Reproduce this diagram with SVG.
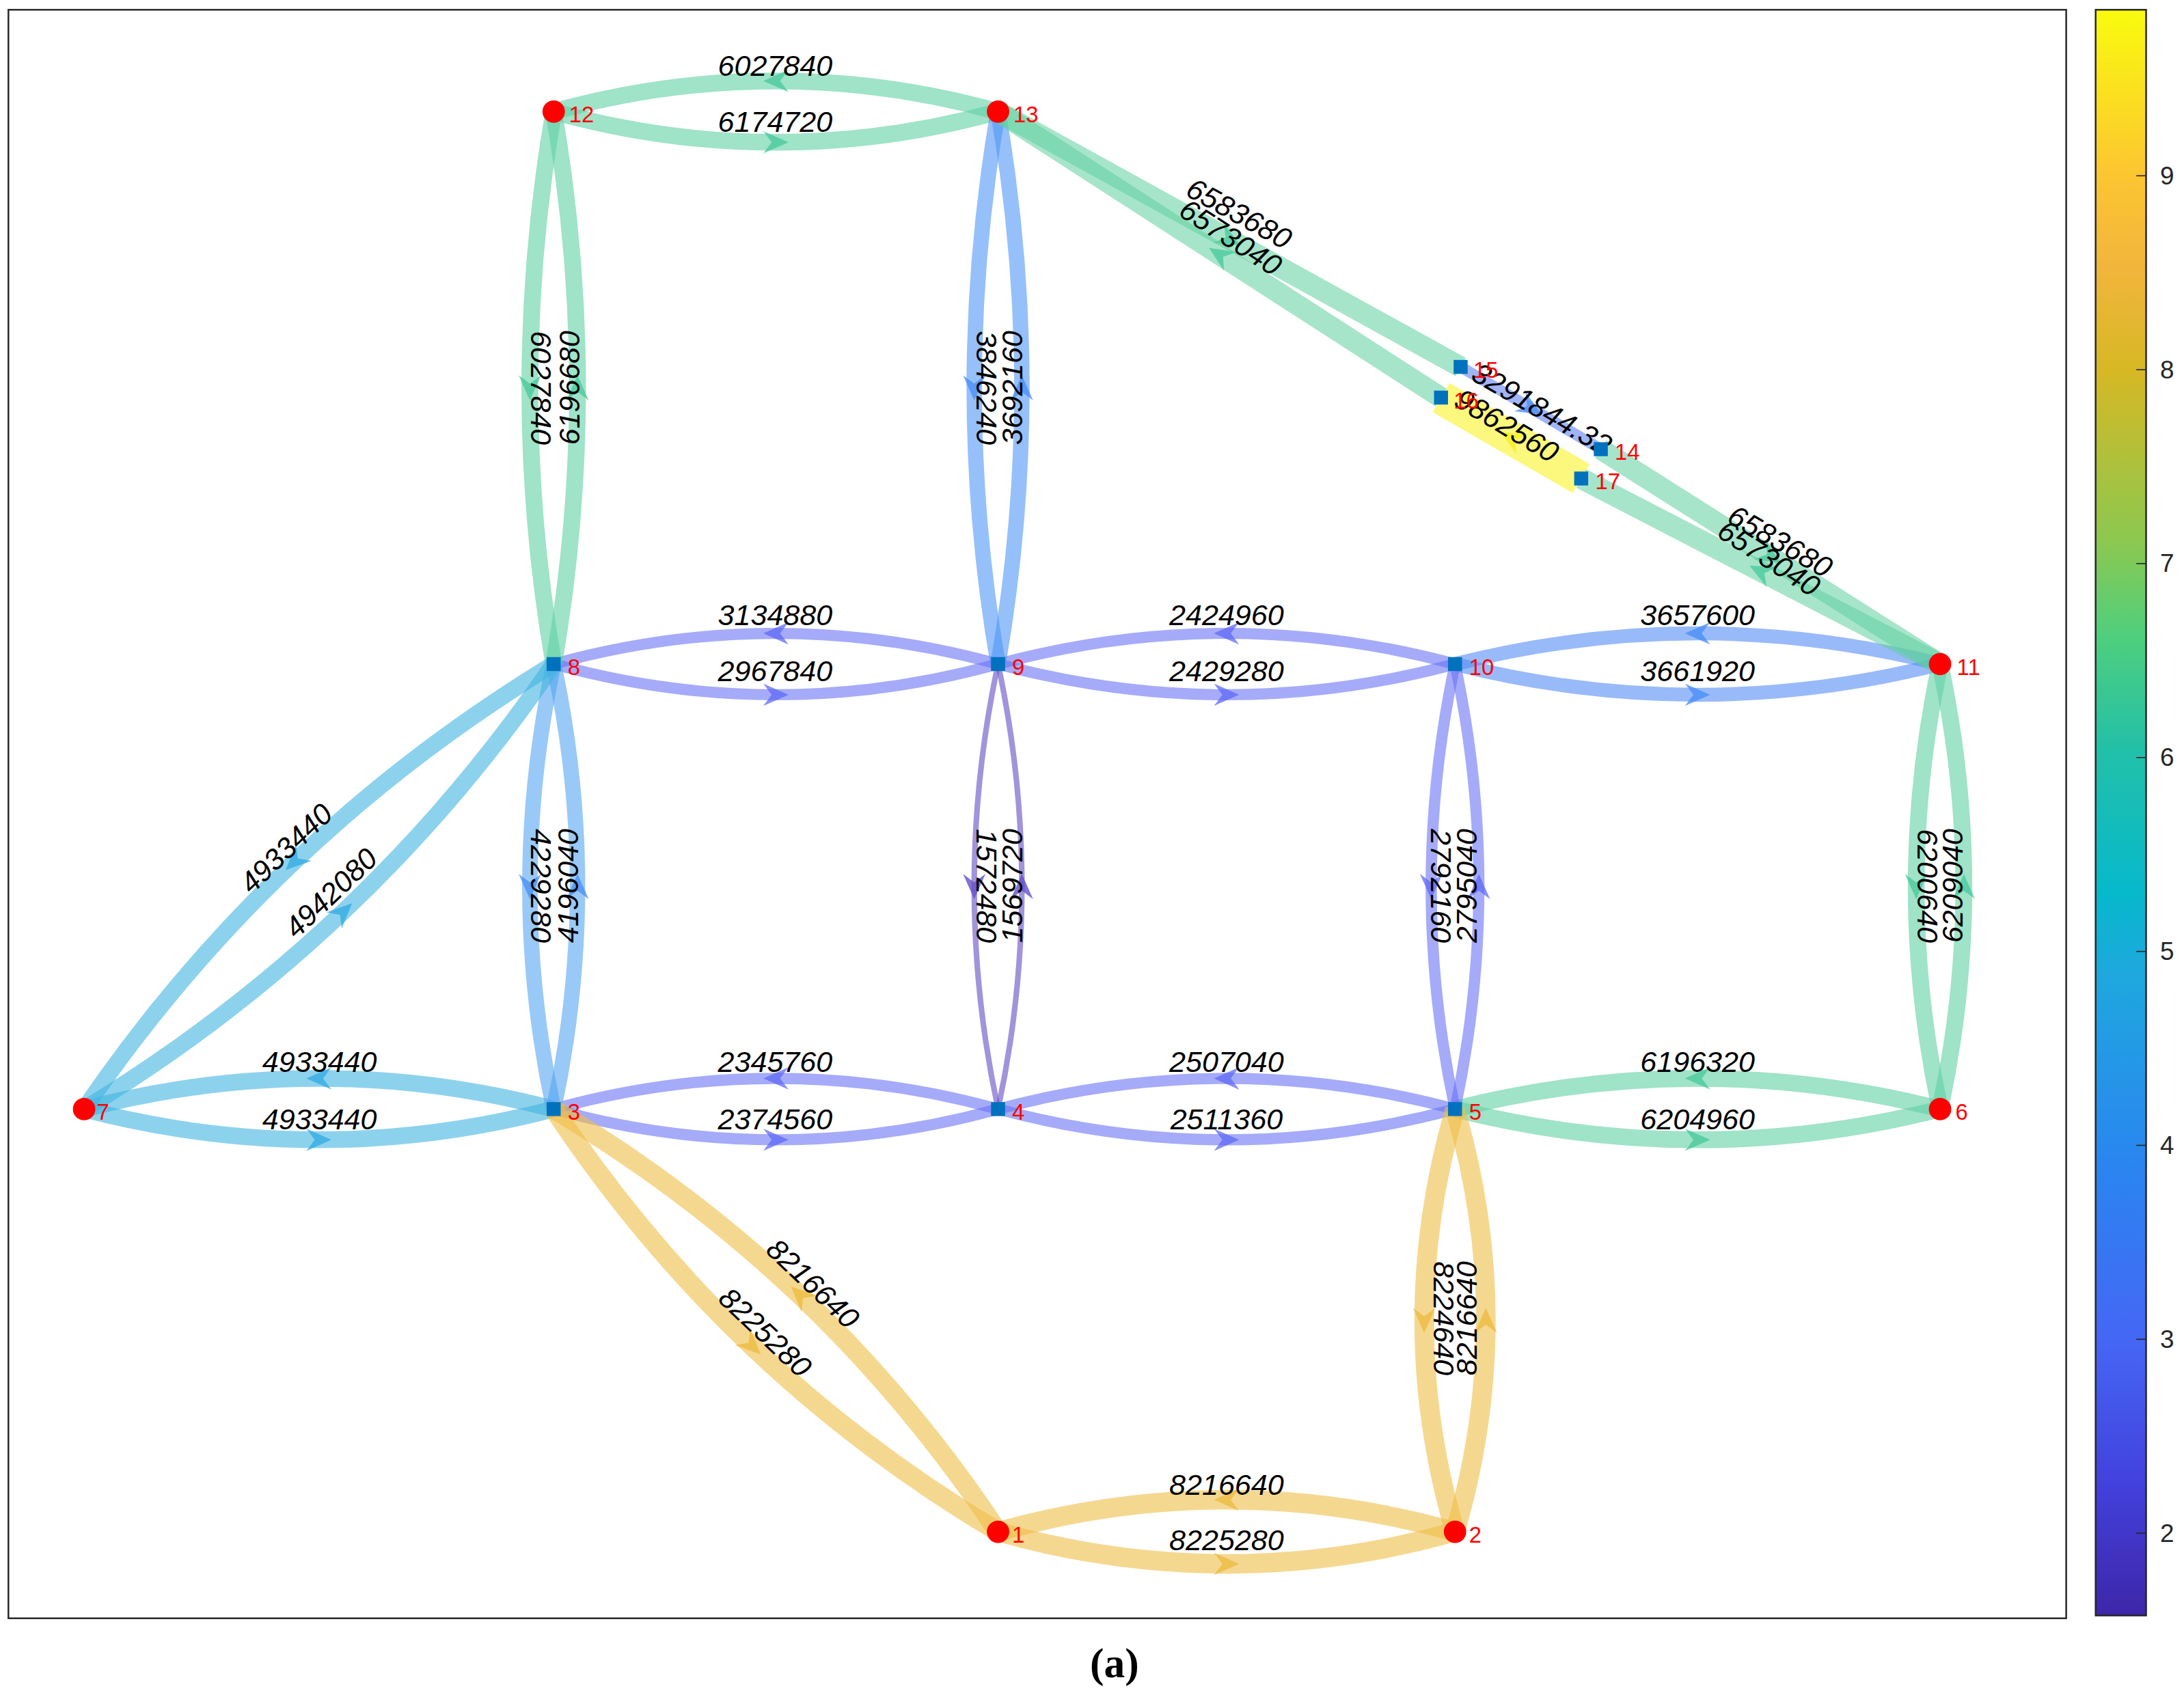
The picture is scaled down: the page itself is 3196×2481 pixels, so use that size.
<svg xmlns="http://www.w3.org/2000/svg" width="3196" height="2481" viewBox="0 0 3196 2481">
<style>
.e{fill:none;stroke-linecap:butt}
.g{stroke:rgb(95,208,165);stroke-opacity:.6;stroke-width:12}
.b1{stroke:rgb(80,150,245);stroke-opacity:.6;stroke-width:11}
.b2{stroke:rgb(85,165,240);stroke-opacity:.6;stroke-width:11}
.p{stroke:rgb(105,115,245);stroke-opacity:.6;stroke-width:8}
.pb{stroke:rgb(85,140,245);stroke-opacity:.6;stroke-width:10}
.v{stroke:rgb(110,90,200);stroke-opacity:.65;stroke-width:4}
.s{stroke:rgb(65,180,225);stroke-opacity:.6;stroke-width:12}
.y{stroke:rgb(238,190,70);stroke-opacity:.6;stroke-width:14}
.gy{stroke:rgb(250,245,70);stroke-opacity:.7;stroke-width:24}
.bl{stroke:rgb(110,140,245);stroke-opacity:.65;stroke-width:8}
.gs{stroke:rgb(95,208,160);stroke-opacity:.55;stroke-width:15}
.lb{font-family:"Liberation Sans",Arial,sans-serif;font-style:italic;font-size:21px;fill:#000;text-anchor:middle;dominant-baseline:central}
.nl{font-family:"Liberation Sans",Arial,sans-serif;font-size:16px;fill:#ff0000;dominant-baseline:central}
.rc{fill:#ff0000}
.sq{fill:#0072bd}
.tk{font-family:"Liberation Sans",Arial,sans-serif;font-size:18px;fill:#262626;dominant-baseline:central}
</style>
<defs>
<marker id="ag" markerUnits="userSpaceOnUse" markerWidth="18" markerHeight="16" refX="9" refY="8" orient="auto"><path d="M0,0 L18,8 L0,16 L6,8 z" fill="rgb(70,200,155)" fill-opacity=".75"/></marker>
<marker id="ab" markerUnits="userSpaceOnUse" markerWidth="18" markerHeight="16" refX="9" refY="8" orient="auto"><path d="M0,0 L18,8 L0,16 L6,8 z" fill="rgb(70,140,245)" fill-opacity=".75"/></marker>
<marker id="ap" markerUnits="userSpaceOnUse" markerWidth="18" markerHeight="16" refX="9" refY="8" orient="auto"><path d="M0,0 L18,8 L0,16 L6,8 z" fill="rgb(95,105,245)" fill-opacity=".75"/></marker>
<marker id="av" markerUnits="userSpaceOnUse" markerWidth="18" markerHeight="16" refX="9" refY="8" orient="auto"><path d="M0,0 L18,8 L0,16 L6,8 z" fill="rgb(100,80,200)" fill-opacity=".8"/></marker>
<marker id="as" markerUnits="userSpaceOnUse" markerWidth="18" markerHeight="16" refX="9" refY="8" orient="auto"><path d="M0,0 L18,8 L0,16 L6,8 z" fill="rgb(50,170,225)" fill-opacity=".75"/></marker>
<marker id="ay" markerUnits="userSpaceOnUse" markerWidth="18" markerHeight="16" refX="9" refY="8" orient="auto"><path d="M0,0 L18,8 L0,16 L6,8 z" fill="rgb(235,185,60)" fill-opacity=".75"/></marker>
<marker id="ayy" markerUnits="userSpaceOnUse" markerWidth="18" markerHeight="16" refX="9" refY="8" orient="auto"><path d="M0,0 L18,8 L0,16 L6,8 z" fill="rgb(245,240,40)" fill-opacity=".85"/></marker>
<linearGradient id="cb" x1="0" y1="0" x2="0" y2="1">
<stop offset="0" stop-color="#f9fb0e"/><stop offset=".104" stop-color="#fcc531"/><stop offset=".16" stop-color="#f2b53c"/><stop offset=".225" stop-color="#d6b824"/><stop offset=".33" stop-color="#8cc84f"/><stop offset=".39" stop-color="#4fcf7d"/><stop offset=".46" stop-color="#22c0a8"/><stop offset=".55" stop-color="#06b9cc"/><stop offset=".6" stop-color="#1ea8de"/><stop offset=".72" stop-color="#2a85f0"/><stop offset=".83" stop-color="#4566f5"/><stop offset=".92" stop-color="#4240dc"/><stop offset="1" stop-color="#3e26a8"/>
</linearGradient>
</defs>
<rect width="3196" height="2481" fill="#fff"/>
<g transform="scale(2.0513 2.042)">
<rect x="6" y="7" width="1468" height="1153" fill="none" stroke="#262626" stroke-width="1.2"/>
<g id="colorbar">
<rect x="1495" y="7" width="36" height="1151" fill="url(#cb)" stroke="#262626" stroke-width="1.2"/>
<g stroke="#262626" stroke-width="0.8">
<line x1="1524" y1="126" x2="1531" y2="126"/><line x1="1524" y1="265" x2="1531" y2="265"/><line x1="1524" y1="404" x2="1531" y2="404"/><line x1="1524" y1="543" x2="1531" y2="543"/><line x1="1524" y1="682" x2="1531" y2="682"/><line x1="1524" y1="821" x2="1531" y2="821"/><line x1="1524" y1="960" x2="1531" y2="960"/><line x1="1524" y1="1099" x2="1531" y2="1099"/>
</g>
<text class="tk" x="1541" y="126">9</text><text class="tk" x="1541" y="265">8</text><text class="tk" x="1541" y="404">7</text><text class="tk" x="1541" y="543">6</text><text class="tk" x="1541" y="682">5</text><text class="tk" x="1541" y="821">4</text><text class="tk" x="1541" y="960">3</text><text class="tk" x="1541" y="1099">2</text>
</g>
<g id="connectors">
<path class="e g" marker-mid="url(#ag)" d="M395 80 Q474 102 553.5 102 Q633 102 712 80"/>
<path class="e g" marker-mid="url(#ag)" d="M712 80 Q633 58 553.5 58 Q474 58 395 80"/>
<path class="e p" marker-mid="url(#ap)" d="M395 476 Q474 498 553.5 498 Q633 498 712 476"/>
<path class="e p" marker-mid="url(#ap)" d="M712 476 Q633 454 553.5 454 Q474 454 395 476"/>
<path class="e p" marker-mid="url(#ap)" d="M712 476 Q793.5 498 875 498 Q956.5 498 1038 476"/>
<path class="e p" marker-mid="url(#ap)" d="M1038 476 Q956.5 454 875 454 Q793.5 454 712 476"/>
<path class="e pb" marker-mid="url(#ab)" d="M1038 476 Q1124.5 498 1211 498 Q1297.5 498 1384 476"/>
<path class="e pb" marker-mid="url(#ab)" d="M1384 476 Q1297.5 454 1211 454 Q1124.5 454 1038 476"/>
<path class="e s" marker-mid="url(#as)" d="M60 795 Q143.75 817 227.5 817 Q311.25 817 395 795"/>
<path class="e s" marker-mid="url(#as)" d="M395 795 Q311.25 773 227.5 773 Q143.75 773 60 795"/>
<path class="e p" marker-mid="url(#ap)" d="M395 795 Q474 817 553.5 817 Q633 817 712 795"/>
<path class="e p" marker-mid="url(#ap)" d="M712 795 Q633 773 553.5 773 Q474 773 395 795"/>
<path class="e p" marker-mid="url(#ap)" d="M712 795 Q793.5 817 875 817 Q956.5 817 1038 795"/>
<path class="e p" marker-mid="url(#ap)" d="M1038 795 Q956.5 773 875 773 Q793.5 773 712 795"/>
<path class="e g" marker-mid="url(#ag)" d="M1038 795 Q1124.5 817 1211 817 Q1297.5 817 1384 795"/>
<path class="e g" marker-mid="url(#ag)" d="M1384 795 Q1297.5 773 1211 773 Q1124.5 773 1038 795"/>
<path class="e y" marker-mid="url(#ay)" d="M712 1098 Q793.5 1121 875 1121 Q956.5 1121 1038 1098"/>
<path class="e y" marker-mid="url(#ay)" d="M1038 1098 Q956.5 1075 875 1075 Q793.5 1075 712 1098"/>
<path class="e g" marker-mid="url(#ag)" d="M395 80 Q378 179 378 278 Q378 377 395 476"/>
<path class="e g" marker-mid="url(#ag)" d="M395 476 Q412 377 412 278 Q412 179 395 80"/>
<path class="e b1" marker-mid="url(#ab)" d="M712 80 Q695 179 695 278 Q695 377 712 476"/>
<path class="e b1" marker-mid="url(#ab)" d="M712 476 Q729 377 729 278 Q729 179 712 80"/>
<path class="e b2" marker-mid="url(#ab)" d="M395 476 Q378 555.75 378 635.5 Q378 715.25 395 795"/>
<path class="e b2" marker-mid="url(#ab)" d="M395 795 Q412 715.25 412 635.5 Q412 555.75 395 476"/>
<path class="e v" marker-mid="url(#av)" d="M712 476 Q695 555.75 695 635.5 Q695 715.25 712 795"/>
<path class="e v" marker-mid="url(#av)" d="M712 795 Q729 715.25 729 635.5 Q729 555.75 712 476"/>
<path class="e p" marker-mid="url(#ap)" d="M1038 476 Q1021 555.75 1021 635.5 Q1021 715.25 1038 795"/>
<path class="e p" marker-mid="url(#ap)" d="M1038 795 Q1055 715.25 1055 635.5 Q1055 555.75 1038 476"/>
<path class="e g" marker-mid="url(#ag)" d="M1384 476 Q1367 555.75 1367 635.5 Q1367 715.25 1384 795"/>
<path class="e g" marker-mid="url(#ag)" d="M1384 795 Q1401 715.25 1401 635.5 Q1401 555.75 1384 476"/>
<path class="e y" marker-mid="url(#ay)" d="M1038 795 Q1016 870.75 1016 946.5 Q1016 1022.25 1038 1098"/>
<path class="e y" marker-mid="url(#ay)" d="M1038 1098 Q1060 1022.25 1060 946.5 Q1060 870.75 1038 795"/>
<path class="e y" marker-mid="url(#ay)" d="M395 795 Q457 888.8 536.2 964.6 Q615.5 1040.3 712 1098"/>
<path class="e y" marker-mid="url(#ay)" d="M712 1098 Q650 1004.2 570.8 928.4 Q491.5 852.7 395 795"/>
<path class="e s" marker-mid="url(#as)" d="M60 795 Q161 733.35 244.75 653.6 Q328.5 573.85 395 476"/>
<path class="e s" marker-mid="url(#as)" d="M395 476 Q294 537.65 210.25 617.4 Q126.5 697.15 60 795"/>
<path class="e gs" marker-mid="url(#ag)" d="M712 80 L877 171.5 L1042 263"/>
<path class="e gs" marker-mid="url(#ag)" d="M1028 285 L870 182.5 L712 80"/>
<path class="e bl" marker-mid="url(#ab)" d="M1042 263 L1092 292.5 L1142 322"/>
<path class="e gy" marker-mid="url(#ayy)" d="M1128 343 L1078 314 L1028 285"/>
<path class="e gs" marker-mid="url(#ag)" d="M1142 322 L1263 399 L1384 476"/>
<path class="e gs" marker-mid="url(#ag)" d="M1384 476 L1256 409.5 L1128 343"/>
</g>
<g id="edge-labels">
<text class="lb" x="553" y="47">6027840</text><text class="lb" x="553" y="87">6174720</text>
<text class="lb" x="553" y="441">3134880</text><text class="lb" x="553" y="481">2967840</text>
<text class="lb" x="875" y="441">2424960</text><text class="lb" x="875" y="481">2429280</text>
<text class="lb" x="1211" y="441">3657600</text><text class="lb" x="1211" y="481">3661920</text>
<text class="lb" x="228" y="761">4933440</text><text class="lb" x="228" y="802">4933440</text>
<text class="lb" x="553" y="761">2345760</text><text class="lb" x="553" y="802">2374560</text>
<text class="lb" x="875" y="761">2507040</text><text class="lb" x="875" y="802">2511360</text>
<text class="lb" x="1211" y="761">6196320</text><text class="lb" x="1211" y="802">6204960</text>
<text class="lb" x="875" y="1064">8216640</text><text class="lb" x="875" y="1104">8225280</text>
<text class="lb" transform="translate(386 278) rotate(90)">6027840</text><text class="lb" transform="translate(406 278) rotate(-90)">6196680</text>
<text class="lb" transform="translate(704 278) rotate(90)">3846240</text><text class="lb" transform="translate(722 278) rotate(-90)">3692160</text>
<text class="lb" transform="translate(386 635) rotate(90)">4229280</text><text class="lb" transform="translate(405 635) rotate(-90)">4196040</text>
<text class="lb" transform="translate(704 635) rotate(90)">1572480</text><text class="lb" transform="translate(722 635) rotate(-90)">1569720</text>
<text class="lb" transform="translate(1028 635) rotate(90)">2792160</text><text class="lb" transform="translate(1046 635) rotate(-90)">2795040</text>
<text class="lb" transform="translate(1375 635) rotate(90)">6200640</text><text class="lb" transform="translate(1393 635) rotate(-90)">6209040</text>
<text class="lb" transform="translate(1030 945) rotate(90)">8224640</text><text class="lb" transform="translate(1046 945) rotate(-90)">8216640</text>
<text class="lb" transform="translate(580 920) rotate(43.7)">8216640</text><text class="lb" transform="translate(546 955) rotate(43.7)">8225280</text>
<text class="lb" transform="translate(204 608) rotate(-43.6)">4933440</text><text class="lb" transform="translate(236 640) rotate(-43.6)">4942080</text>
<text class="lb" transform="translate(884 153) rotate(29)">6583680</text><text class="lb" transform="translate(878 170) rotate(33)">6573040</text>
<text class="lb" transform="translate(1270 388) rotate(30)">6583680</text><text class="lb" transform="translate(1262 400) rotate(33)">6573040</text>
<text class="lb" transform="translate(1100 293) rotate(30)">3291844.32</text><text class="lb" transform="translate(1075 305) rotate(31)">9862560</text>
</g>
<g id="n1"><circle class="rc" cx="712" cy="1098" r="8"/><text class="nl" x="722" y="1100">1</text></g>
<g id="n2"><circle class="rc" cx="1038" cy="1098" r="8"/><text class="nl" x="1048" y="1100">2</text></g>
<g id="n3"><rect class="sq" x="390" y="790" width="10" height="10"/><text class="nl" x="405" y="797">3</text></g>
<g id="n4"><rect class="sq" x="707" y="790" width="10" height="10"/><text class="nl" x="722" y="797">4</text></g>
<g id="n5"><rect class="sq" x="1033" y="790" width="10" height="10"/><text class="nl" x="1048" y="797">5</text></g>
<g id="n6"><circle class="rc" cx="1384" cy="795" r="8"/><text class="nl" x="1395" y="797">6</text></g>
<g id="n7"><circle class="rc" cx="60" cy="795" r="8"/><text class="nl" x="69" y="797">7</text></g>
<g id="n8"><rect class="sq" x="390" y="471" width="10" height="10"/><text class="nl" x="405" y="478">8</text></g>
<g id="n9"><rect class="sq" x="707" y="471" width="10" height="10"/><text class="nl" x="722" y="478">9</text></g>
<g id="n10"><rect class="sq" x="1033" y="471" width="10" height="10"/><text class="nl" x="1048" y="478">10</text></g>
<g id="n11"><circle class="rc" cx="1384" cy="476" r="8"/><text class="nl" x="1396" y="478">11</text></g>
<g id="n12"><circle class="rc" cx="395" cy="80" r="8"/><text class="nl" x="406" y="82">12</text></g>
<g id="n13"><circle class="rc" cx="712" cy="80" r="8"/><text class="nl" x="723" y="82">13</text></g>
<g id="n14"><rect class="sq" x="1137" y="317" width="10" height="10"/><text class="nl" x="1152" y="324">14</text></g>
<g id="n15"><rect class="sq" x="1037" y="258" width="10" height="10"/><text class="nl" x="1051" y="265">15</text></g>
<g id="n16"><rect class="sq" x="1023" y="280" width="10" height="10"/><text class="nl" x="1037" y="287">16</text></g>
<g id="n17"><rect class="sq" x="1123" y="338" width="10" height="10"/><text class="nl" x="1138" y="345">17</text></g>
<text x="795" y="1192" font-family="'Liberation Serif',serif" font-weight="bold" font-size="30" text-anchor="middle" dominant-baseline="central">(a)</text>
</g>
</svg>
